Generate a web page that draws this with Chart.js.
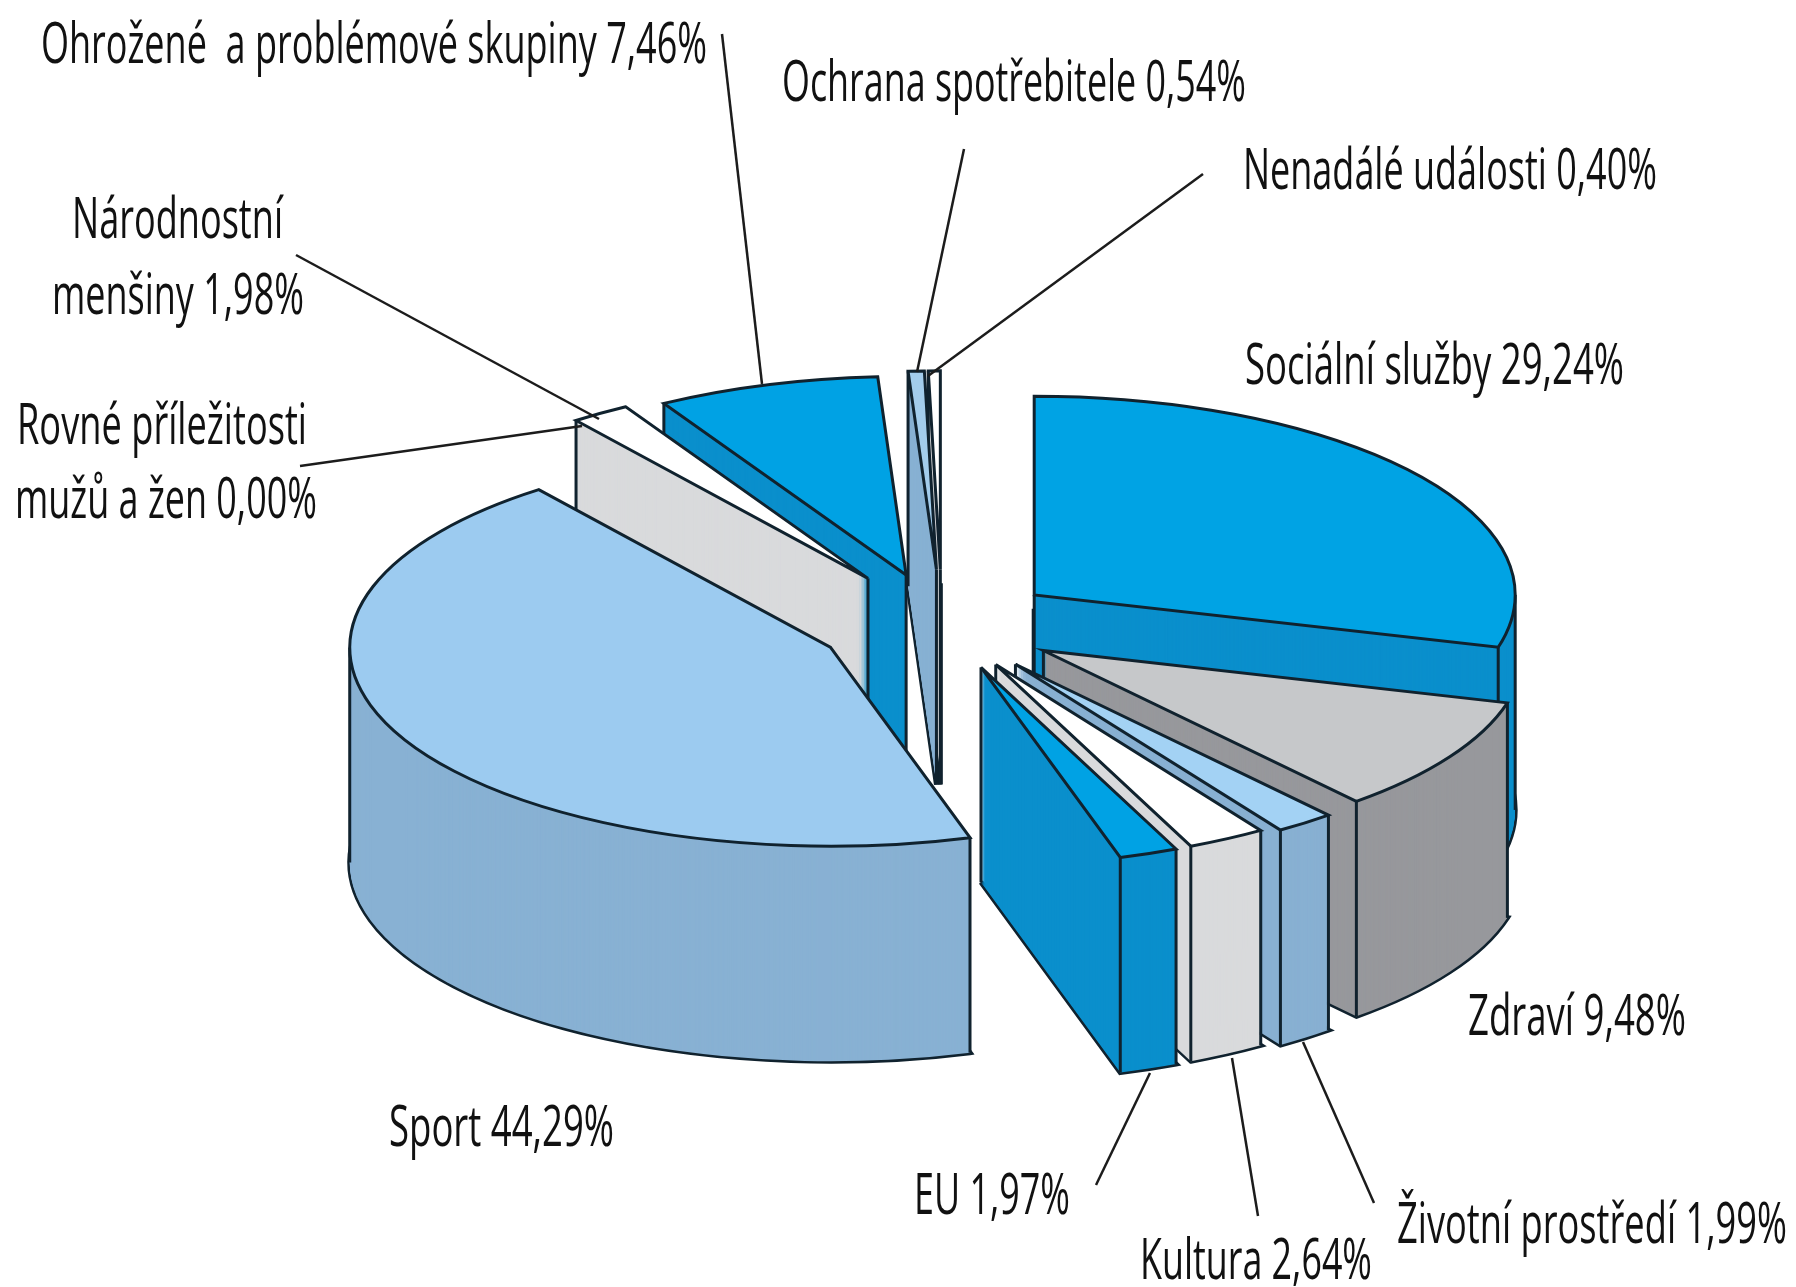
<!DOCTYPE html>
<html>
<head>
<meta charset="utf-8">
<title>Podíl podle oblastí</title>
<script src="https://cdn.jsdelivr.net/npm/chart.js@4/dist/chart.umd.min.js"></script>
<style>
    html, body { margin: 0; padding: 0; background: #fff; }
    canvas { display: block; }
</style>
</head>
<body>
<canvas id="pie3d" width="1796" height="1287"></canvas>
<script>
// data, clockwise from 12 o'clock
const categories = ['Sociální služby', 'Zdraví', 'Životní prostředí', 'Kultura', 'EU', 'Sport',
    'Rovné příležitosti\nmužů a žen', 'Národnostní\nmenšiny', 'Ohrožené  a problémové skupiny',
    'Ochrana spotřebitele', 'Nenadálé události'];
const shares = [29.24, 9.48, 1.99, 2.64, 1.97, 44.29, 0.00, 1.98, 7.46, 0.54, 0.40];

// styles per slice
const topColors = ['#00a3e4', '#c6c8ca', '#a3d2f4', '#ffffff', '#00a2e4', '#9ccbf0',
    '#ffffff', '#ffffff', '#00a2e4', '#a3cdec', '#ffffff'];
const wallColors = ['#0a8fcc', '#97989c', '#88b0d2', '#d9dadc', '#0a8fcc', '#88b1d3',
    '#d9dadc', '#d9dadc', '#0a8fcc', '#88b1d3', '#d9dadc'];
const explode = [116, 120, 122, 112, 112, 125, 0, 133, 124, 132, 132];
const drawOrder = [10, 9, 8, 7, 0, 5, 1, 2, 3, 4];

// layout of the fake 3d
const centerX = 942, centerY = 624, squash = 0.413, depth = 215, pieRadius = 481;
const lineColor = '#10222e';

// label boxes: left, width, baseline of each line, same order as categories
const labelBoxes = [
    [[1245, 379, 384]],
    [[1468, 218, 1035]],
    [[1397, 390, 1243]],
    [[1140, 232, 1279]],
    [[914, 156, 1214]],
    [[389, 225, 1146]],
    [[17, 290, 444], [15, 302, 518]],
    [[72, 211, 238], [52, 252, 314]],
    [[41, 666, 63]],
    [[782, 464, 101]],
    [[1243, 414, 189]]
];
const leaders = [
    [722, 34, 762, 384],
    [964, 149, 917, 372],
    [1203, 174, 928, 376],
    [296, 255, 599, 419],
    [300, 466, 582, 426],
    [1096, 1185, 1150, 1073],
    [1258, 1216, 1232, 1058],
    [1374, 1203, 1303, 1042]
];

function fmt(v) {
    return v.toFixed(2).replace('.', ',') + '%';
}

function normAngle(a) {
    const t = Math.PI * 2;
    return ((a % t) + t) % t;
}

function angleInside(a, start, end) {
    return normAngle(a - start) <= normAngle(end - start);
}

function fillSlice(ctx, arc, color, shift, px, py) {
    const saved = arc.options;
    arc.options = { backgroundColor: color, borderColor: color, borderWidth: 0, offset: 0, spacing: 0,
        borderRadius: 0, borderAlign: 'center', borderJoinStyle: 'miter', circular: true };
    ctx.save();
    ctx.translate(centerX, centerY + shift);
    ctx.scale(1, squash);
    ctx.translate(px - arc.x, py / squash - arc.y);
    arc.draw(ctx);
    ctx.restore();
    arc.options = saved;
}

function outline(ctx, arc, px, py, shift, width) {
    const tx = centerX + px, ty = centerY + py + shift;
    ctx.beginPath();
    ctx.moveTo(tx, ty);
    ctx.ellipse(tx, ty, arc.outerRadius, arc.outerRadius * squash, 0, arc.startAngle, arc.endAngle);
    ctx.closePath();
    ctx.lineJoin = 'miter';
    ctx.lineWidth = width;
    ctx.strokeStyle = lineColor;
    ctx.stroke();
}

function drawEdges(ctx, arc, px, py) {
    const a = arc.startAngle, b = arc.endAngle, r = arc.outerRadius;
    const tx = centerX + px, ty = centerY + py;
    const cutA = -Math.cos(a) > 0, cutB = Math.cos(b) > 0;
    const pts = [];
    if (cutA || cutB) pts.push([tx, ty]);
    if (cutA || Math.sin(a) > 0) pts.push([tx + Math.cos(a) * r, ty + Math.sin(a) * r * squash]);
    if (cutB || Math.sin(b) > 0) pts.push([tx + Math.cos(b) * r, ty + Math.sin(b) * r * squash]);
    [0, Math.PI].forEach(function (s) {
        if (angleInside(s, a, b)) pts.push([tx + Math.cos(s) * r, ty + Math.sin(s) * r * squash]);
    });
    ctx.strokeStyle = lineColor;
    ctx.lineWidth = 3;
    pts.forEach(function (p) {
        ctx.beginPath();
        ctx.moveTo(p[0], p[1]);
        ctx.lineTo(p[0], p[1] + depth);
        ctx.stroke();
    });
}

const pie3dPlugin = {
    id: 'pie3d',
    beforeDatasetDraw(chart) {
        const ctx = chart.ctx;
        const arcs = chart.getDatasetMeta(0).data;
        drawOrder.forEach(function (i) {
            const arc = arcs[i];
            const mid = (arc.startAngle + arc.endAngle) / 2;
            const px = Math.cos(mid) * explode[i];
            const py = Math.sin(mid) * explode[i] * squash;
            outline(ctx, arc, px, py, depth, 5);
            for (let d = depth; d > 0; d--) {
                fillSlice(ctx, arc, wallColors[i], d, px, py);
            }
            drawEdges(ctx, arc, px, py);
            fillSlice(ctx, arc, topColors[i], 0, px, py);
            outline(ctx, arc, px, py, 0, 3);
        });
        return false;
    },
    afterDraw(chart) {
        const ctx = chart.ctx;
        ctx.save();
        ctx.strokeStyle = '#1c1c1c';
        ctx.lineWidth = 2.5;
        leaders.forEach(function (l) {
            ctx.beginPath();
            ctx.moveTo(l[0], l[1]);
            ctx.lineTo(l[2], l[3]);
            ctx.stroke();
        });
        ctx.fillStyle = '#111111';
        ctx.font = '56px "Open Sans"';
        ctx.textBaseline = 'alphabetic';
        ctx.textAlign = 'left';
        categories.forEach(function (name, i) {
            const lines = (name + ' ' + fmt(shares[i])).split('\n');
            lines.forEach(function (line, n) {
                const box = labelBoxes[i][n];
                ctx.fillText(line, box[0], box[2], box[1]);
            });
        });
        ctx.restore();
    }
};

new Chart(document.getElementById('pie3d'), {
    type: 'pie',
    data: {
        labels: categories,
        datasets: [{
            data: shares,
            backgroundColor: topColors,
            borderWidth: 0
        }]
    },
    options: {
        responsive: false,
        animation: false,
        radius: pieRadius,
        plugins: {
            legend: { display: false },
            tooltip: { enabled: false }
        }
    },
    plugins: [pie3dPlugin]
});
</script>
</body>
</html>
